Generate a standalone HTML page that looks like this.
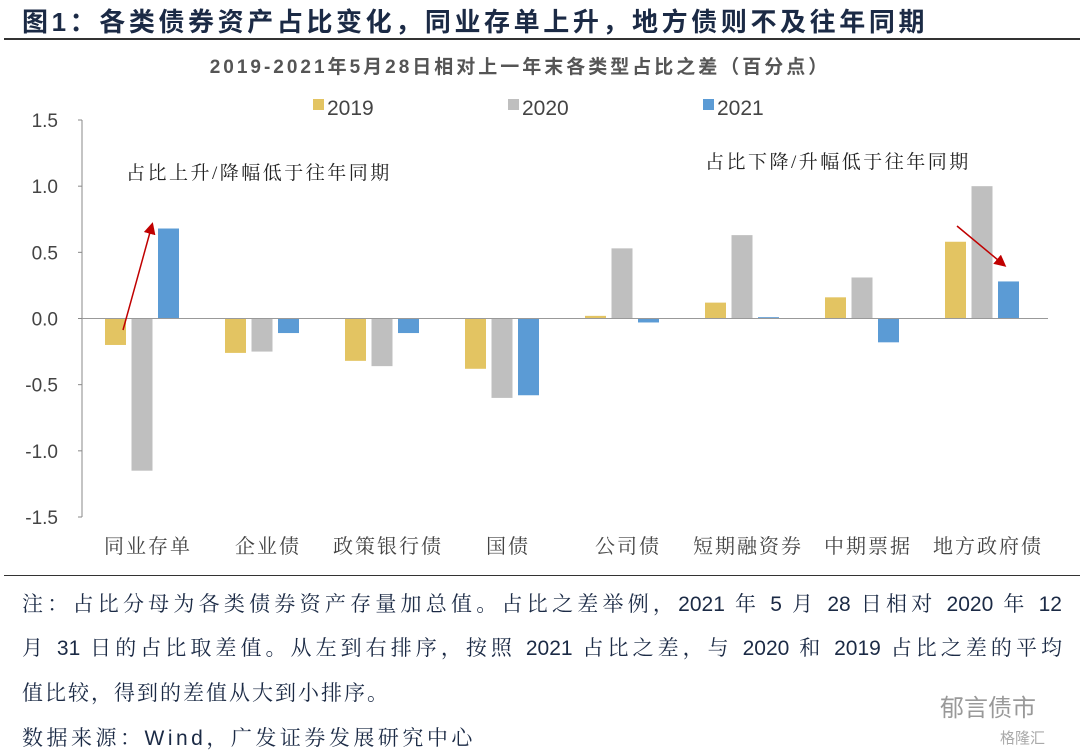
<!DOCTYPE html>
<html><head><meta charset="utf-8"><style>
body{margin:0;width:1080px;height:750px;background:#fff;font-family:"Liberation Sans","Noto Sans CJK SC",sans-serif;overflow:hidden;position:relative}
.t{position:absolute;white-space:nowrap}
.n{position:absolute;left:22px;width:1040px;font-size:21px;color:#1b2a45;font-family:"Liberation Sans","Noto Serif CJK SC",serif;white-space:nowrap}
.j{text-align:justify;text-align-last:justify}
</style></head><body>
<div class="t" style="left:22px;top:2px;font-size:26px;font-weight:bold;color:#1b2a45;letter-spacing:3.6px">图1：各类债券资产占比变化，同业存单上升，地方债则不及往年同期</div>
<div style="position:absolute;left:4px;top:38px;width:1076px;height:2px;background:#333"></div>
<svg id="c" width="1080" height="580" style="position:absolute;left:0;top:0" font-family="Liberation Sans, Noto Sans CJK SC, sans-serif"></svg>
<div style="position:absolute;left:4px;top:575px;width:1076px;height:1px;background:#333"></div>
<div class="n j" style="top:588px">注：占比分母为各类债券资产存量加总值。占比之差举例，2021 年 5 月 28 日相对 2020 年 12</div>
<div class="n j" style="top:632px">月 31 日的占比取差值。从左到右排序，按照 2021 占比之差，与 2020 和 2019 占比之差的平均</div>
<div class="n" style="top:677px;letter-spacing:2px">值比较，得到的差值从大到小排序。</div>
<div class="n" style="top:722px;letter-spacing:3.5px">数据来源：Wind，广发证券发展研究中心</div>
<div class="t" style="left:940px;top:688px;font-size:24px;color:#999">郁言债市</div>
<div class="t" style="left:1000px;top:727px;font-size:15px;color:#aaa">格隆汇</div>
<script>
const categories=["同业存单","企业债","政策银行债","国债","公司债","短期融资券","中期票据","地方政府债"];
const s2019=[-0.2,-0.26,-0.32,-0.38,0.02,0.12,0.16,0.58];
const s2020=[-1.15,-0.25,-0.36,-0.6,0.53,0.63,0.31,1.0];
const s2021=[0.68,-0.11,-0.11,-0.58,-0.03,0.01,-0.18,0.28];
const yTicks=["1.5","1.0","0.5","0.0","-0.5","-1.0","-1.5"];
const series=[["2019",s2019,"#e3c462"],["2020",s2020,"#bfbfbf"],["2021",s2021,"#5b9bd5"]];
const svg=document.getElementById('c');const NS="http://www.w3.org/2000/svg";
const SERIF="Liberation Serif, Noto Serif CJK SC, serif";
function mk(t,a,txt){const e=document.createElementNS(NS,t);for(const k in a)e.setAttribute(k,a[k]);if(txt!=null)e.textContent=txt;svg.appendChild(e);return e;}
const x0=88,x1=1048,yTop=120,yBot=517;
const y=v=>yTop+(1.5-v)/3*(yBot-yTop);
const gw=(x1-x0)/categories.length;
let e=mk('text',{x:520,y:73,'text-anchor':'middle','font-size':19,'font-weight':'bold',fill:'#555','letter-spacing':3},'2019-2021年5月28日相对上一年末各类型占比之差（百分点）');

e=mk('line',{x1:82,x2:82,y1:yTop,y2:yBot,stroke:'#888'});

yTicks.forEach(t=>{const v=parseFloat(t);
 let l=mk('line',{x1:78,x2:82,y1:y(v),y2:y(v),stroke:'#888'});
 let tx=mk('text',{x:58,y:y(v)+7,'text-anchor':'end','font-size':19,fill:'#444'},t);});
series.forEach((s,si)=>{
 let r=mk('rect',{x:313+si*195,y:99,width:11,height:11,fill:s[2]});
 let t=mk('text',{x:327+si*195,y:115,'font-size':21,fill:'#444'},s[0]);
 s[1].forEach((v,i)=>{const bx=x0+i*gw+17+si*26.5;const a=y(Math.max(v,0)),b=y(Math.min(v,0));
  let br=mk('rect',{x:bx,y:a,width:21,height:Math.max(b-a,0.8),fill:s[2]});});
});
e=mk('line',{x1:82,x2:x1,y1:y(0),y2:y(0),stroke:'#999'});
categories.forEach((c,i)=>{let t=mk('text',{x:x0+i*gw+gw/2,y:553,'text-anchor':'middle','font-size':20,fill:'#444','font-family':SERIF,'letter-spacing':2},c);});
e=mk('text',{x:126,y:179,'font-size':19,fill:'#222','font-family':SERIF,'letter-spacing':2.5},'占比上升/降幅低于往年同期');
e=mk('text',{x:705,y:168,'font-size':19,fill:'#222','font-family':SERIF,'letter-spacing':2.5},'占比下降/升幅低于往年同期');
mk('defs',{}).innerHTML='<marker id="ar" markerWidth="8" markerHeight="8" refX="6" refY="4" orient="auto"><path d="M0,0 L8,4 L0,8 z" fill="#c00000"/></marker>';
e=mk('line',{x1:123,y1:330,x2:152,y2:225,stroke:'#c00000','stroke-width':1.5,'marker-end':'url(#ar)'});
e=mk('line',{x1:957,y1:226,x2:1004,y2:265,stroke:'#c00000','stroke-width':1.5,'marker-end':'url(#ar)'});
</script>
</body></html>
